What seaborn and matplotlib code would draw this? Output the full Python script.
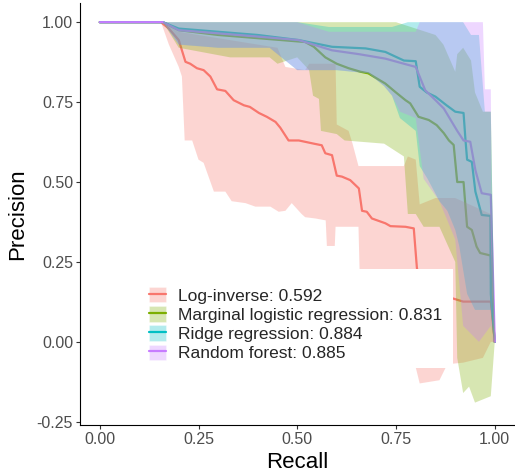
import numpy as np
import pandas as pd
import matplotlib
matplotlib.use("Agg")
import matplotlib.pyplot as plt
import seaborn as sns
from matplotlib.patches import Patch, Rectangle
from matplotlib.lines import Line2D

# ---------------- data ----------------
models = ["Log-inverse", "Marginal logistic regression", "Ridge regression", "Random forest"]
auc_labels = ["0.592", "0.831", "0.884", "0.885"]
colors = ["#F8766D", "#7CAE00", "#00BFC4", "#C77CFF"]

# mean precision-recall curves
li_recall = [0, 0.155, 0.175, 0.20, 0.217, 0.229, 0.246, 0.263, 0.28, 0.297, 0.318, 0.339, 0.365,
             0.38, 0.403, 0.423, 0.445, 0.457, 0.478, 0.504, 0.542, 0.562, 0.571, 0.588, 0.60,
             0.613, 0.634, 0.656, 0.664, 0.676, 0.689, 0.723, 0.736, 0.774, 0.795, 0.803, 0.812,
             0.83, 0.891, 0.92, 0.99, 1.0]
li_precision = [1.0, 1.0, 0.98, 0.944, 0.876, 0.87, 0.856, 0.85, 0.83, 0.79, 0.785, 0.756, 0.74,
                0.735, 0.716, 0.704, 0.688, 0.67, 0.63, 0.63, 0.62, 0.615, 0.59, 0.584, 0.52,
                0.517, 0.506, 0.48, 0.41, 0.407, 0.386, 0.371, 0.362, 0.36, 0.355, 0.23, 0.20,
                0.15, 0.137, 0.126, 0.126, 0.0]

mlr_recall = [0, 0.16, 0.2, 0.3, 0.4, 0.5, 0.52, 0.542, 0.571, 0.6, 0.63, 0.66, 0.68, 0.70, 0.723,
              0.748, 0.774, 0.786, 0.807, 0.833, 0.853, 0.871, 0.884, 0.896, 0.905, 0.921, 0.93,
              0.942, 0.954, 0.963, 0.99, 0.992, 1.0]
mlr_precision = [1.0, 1.0, 0.975, 0.96, 0.95, 0.94, 0.938, 0.923, 0.89, 0.87, 0.856, 0.845, 0.84,
                 0.825, 0.808, 0.782, 0.756, 0.746, 0.704, 0.694, 0.678, 0.653, 0.63, 0.616, 0.5,
                 0.5, 0.36, 0.35, 0.298, 0.278, 0.27, 0.126, 0.0]

rr_recall = [0, 0.16, 0.2, 0.3, 0.4, 0.504, 0.588, 0.673, 0.723, 0.77, 0.8, 0.81, 0.828, 0.85,
             0.878, 0.9, 0.921, 0.926, 0.93, 0.942, 0.951, 0.967, 0.989, 0.99, 1.0]
rr_precision = [1.0, 1.0, 0.98, 0.97, 0.96, 0.944, 0.923, 0.918, 0.907, 0.88, 0.878, 0.798, 0.78,
                0.767, 0.74, 0.72, 0.716, 0.63, 0.57, 0.563, 0.47, 0.397, 0.394, 0.15, 0.0]

rf_recall = [0, 0.16, 0.2, 0.3, 0.4, 0.504, 0.588, 0.656, 0.723, 0.77, 0.80, 0.824, 0.85, 0.871,
             0.905, 0.921, 0.938, 0.951, 0.967, 0.99, 1.0]
rf_precision = [1.0, 1.0, 0.975, 0.965, 0.955, 0.944, 0.912, 0.9, 0.886, 0.87, 0.86, 0.787, 0.756,
                0.73, 0.66, 0.63, 0.626, 0.537, 0.465, 0.46, 0.0]

# ribbon bounds (lower / upper), each with its own recall grid
li_lo_recall = [0.155, 0.175, 0.20, 0.208, 0.215, 0.234, 0.25, 0.263, 0.289, 0.318, 0.334, 0.369,
                0.394, 0.432, 0.453, 0.47, 0.486, 0.511, 0.52, 0.546, 0.572, 0.575, 0.595, 0.597,
                0.655, 0.66, 0.75, 0.80, 0.81, 0.86, 0.88, 0.92, 0.97, 0.99, 1.0]
li_lo = [1.0, 0.93, 0.86, 0.83, 0.63, 0.63, 0.57, 0.56, 0.47, 0.47, 0.44, 0.434, 0.423, 0.423,
         0.407, 0.41, 0.434, 0.40, 0.39, 0.386, 0.38, 0.30, 0.30, 0.36, 0.36, 0.12, 0.0, -0.08,
         -0.13, -0.12, -0.07, -0.065, -0.05, 0.0, 0.0]
li_hi_recall = [0.155, 0.2, 0.3, 0.45, 0.47, 0.52, 0.53, 0.597, 0.60, 0.63, 0.64, 0.655, 0.77,
                0.78, 0.80, 0.81, 0.85, 0.90, 0.99, 1.0]
li_hi = [1.0, 0.97, 0.95, 0.92, 0.86, 0.85, 0.87, 0.87, 0.68, 0.66, 0.62, 0.55, 0.55, 0.58, 0.57,
         0.43, 0.45, 0.45, 0.40, 0.0]

mlr_lo_recall = [0.16, 0.2, 0.33, 0.43, 0.45, 0.5, 0.53, 0.54, 0.555, 0.56, 0.60, 0.62, 0.72, 0.77,
                 0.78, 0.80, 0.82, 0.86, 0.90, 0.905, 0.92, 0.935, 0.95, 0.97, 0.99, 1.0]
mlr_lo = [1.0, 0.92, 0.89, 0.89, 0.87, 0.89, 0.85, 0.77, 0.76, 0.66, 0.65, 0.63, 0.62, 0.58, 0.40,
          0.40, 0.36, 0.36, 0.25, -0.05, -0.16, -0.14, -0.19, -0.18, -0.17, 0.0]
mlr_hi_recall = [0.16, 0.25, 0.75, 0.8, 0.85, 0.87, 0.9, 0.905, 0.92, 0.94, 0.95, 0.97, 0.99, 1.0]
mlr_hi = [1.0, 1.0, 1.0, 0.98, 0.96, 0.93, 0.845, 0.90, 0.92, 0.88, 0.78, 0.72, 0.72, 0.0]

rr_lo_recall = [0.16, 0.2, 0.3, 0.43, 0.5, 0.6, 0.68, 0.72, 0.74, 0.76, 0.78, 0.80, 0.81, 0.83,
                0.86, 0.88, 0.90, 0.91, 0.93, 0.95, 0.99, 1.0]
rr_lo = [1.0, 0.93, 0.92, 0.92, 0.85, 0.85, 0.84, 0.80, 0.77, 0.70, 0.68, 0.66, 0.55, 0.51, 0.44,
         0.41, 0.35, 0.30, 0.15, 0.10, 0.10, 0.0]
rr_hi_recall = [0.16, 0.5, 0.58, 0.74, 0.78, 0.92, 0.94, 0.96, 0.975, 0.99, 1.0]
rr_hi = [1.0, 1.0, 0.985, 0.985, 1.0, 1.0, 0.96, 0.96, 0.72, 0.72, 0.0]

rf_lo_recall = [0.16, 0.2, 0.3, 0.43, 0.5, 0.6, 0.68, 0.72, 0.74, 0.76, 0.80, 0.82, 0.86, 0.88,
                0.90, 0.92, 0.96, 0.99, 1.0]
rf_lo = [1.0, 0.93, 0.92, 0.92, 0.85, 0.85, 0.84, 0.80, 0.77, 0.72, 0.70, 0.51, 0.44, 0.38, 0.32,
         0.05, 0.0, 0.05, 0.0]
rf_hi_recall = [0.16, 0.5, 0.58, 0.80, 0.81, 0.97, 0.975, 0.99, 0.995]
rf_hi = [1.0, 1.0, 0.97, 0.97, 1.0, 1.0, 0.79, 0.79, 0.0]

x_ticks = [0.0, 0.25, 0.50, 0.75, 1.00]
x_tick_labels = ["0.00", "0.25", "0.50", "0.75", "1.00"]
y_ticks = [-0.25, 0.0, 0.25, 0.50, 0.75, 1.00]
y_tick_labels = ["-0.25", "0.00", "0.25", "0.50", "0.75", "1.00"]

# ---------------- plotting ----------------
sns.set_theme(style="ticks")
plt.rcParams["font.family"] = ["Liberation Sans", "DejaVu Sans"]

line_sets = [(li_recall, li_precision), (mlr_recall, mlr_precision),
             (rr_recall, rr_precision), (rf_recall, rf_precision)]
frames = []
for m, (r, p) in zip(models, line_sets):
    frames.append(pd.DataFrame({"Recall": r, "Precision": p, "model": m}))
df = pd.concat(frames, ignore_index=True)

fig = plt.figure(figsize=(5.15, 4.75), dpi=100)
ax = fig.add_axes([80 / 515, 50 / 475, 434.5 / 515, 422 / 475])

sns.lineplot(data=df, x="Recall", y="Precision", hue="model", hue_order=models,
             palette=colors, estimator=None, sort=False, lw=1.6, legend=False, ax=ax,
             zorder=1)

ribbons = [(li_lo_recall, li_lo, li_hi_recall, li_hi),
           (mlr_lo_recall, mlr_lo, mlr_hi_recall, mlr_hi),
           (rr_lo_recall, rr_lo, rr_hi_recall, rr_hi),
           (rf_lo_recall, rf_lo, rf_hi_recall, rf_hi)]
for c, (lr, lo, hr, hi) in zip(colors, ribbons):
    xs = np.r_[np.array(lr), np.array(hr)[::-1]]
    ys = np.r_[np.array(lo), np.array(hi)[::-1]]
    ax.fill(xs, ys, color=c, alpha=0.3, lw=0, zorder=2)

ax.set_xlim(-0.05, 1.05)
ax.set_ylim(-0.26, 1.06)
ax.set_xticks(x_ticks)
ax.set_xticklabels(x_tick_labels)
ax.set_yticks(y_ticks)
ax.set_yticklabels(y_tick_labels)
ax.tick_params(axis="both", labelsize=11.5, labelcolor="#4D4D4D", color="#333333",
               length=3, width=0.8, pad=2)
for s in ["top", "right"]:
    ax.spines[s].set_visible(False)
for s in ["left", "bottom"]:
    ax.spines[s].set_color("black")
    ax.spines[s].set_linewidth(0.8)
ax.set_xlabel("Recall", fontsize=16, color="black", labelpad=4)
ax.set_ylabel("Precision", fontsize=16, color="black", labelpad=6)

# legend box (white background like ggplot legend inside panel)
bg = Rectangle((144 / 515, (475 - 368) / 475), (453 - 144) / 515, (368 - 269) / 475,
               transform=fig.transFigure, facecolor="white", edgecolor="none",
               zorder=4, clip_on=False)
ax.add_patch(bg)

handles = [(Patch(facecolor=c, alpha=0.3, edgecolor="white", lw=0.8),
            Line2D([], [], color=c, lw=1.6)) for c in colors]
labels = [f"{m}: {a}" for m, a in zip(models, auc_labels)]
leg = ax.legend(handles, labels, loc="upper left",
                bbox_to_anchor=(149 / 515, (475 - 287) / 475),
                bbox_transform=fig.transFigure, frameon=False, fontsize=12.5,
                handlelength=0.98, handleheight=0.98, handletextpad=0.7,
                labelspacing=0.15, borderpad=0, borderaxespad=0)
leg.set_zorder(5)

fig.savefig("out.png", dpi=100)
